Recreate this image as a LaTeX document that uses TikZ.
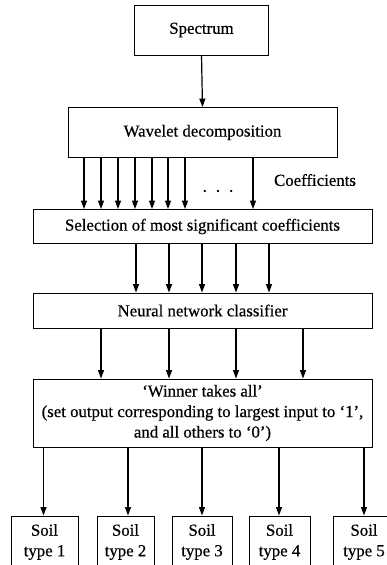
\documentclass[tikz,border=0pt]{standalone}
\usepackage{fontspec}
\setmainfont{Liberation Serif}[FakeBold=0.5]
\usetikzlibrary{arrows.meta}
\begin{document}
\begin{tikzpicture}[x=1pt,y=-1pt,
  every node/.style={font=\fontsize{16.8}{20.5}\selectfont},
  blk/.style={draw=black, line width=0.9pt, fill=white, inner sep=0pt, align=center},
  arr/.style={line width=1.2pt, -{Triangle[width=6pt,length=8.5pt]}},
  lbl/.style={inner sep=0pt}]
  % page area
  \fill[white] (0,0) rectangle (387,565);
  \clip (0,0) rectangle (387,565);

  % processing chain
  \node[blk, minimum width=134pt, minimum height=50pt] (spec) at (201.5,30) {Spectrum};
  \node[blk, minimum width=269pt, minimum height=50pt] (wav) at (202.5,132.5) {Wavelet decomposition};
  \node[blk, minimum width=339pt, minimum height=34pt] (sel) at (202.5,226.5) {Selection of most significant coefficients};
  \node[blk, minimum width=339pt, minimum height=35pt] (nn) at (202.5,310.5) {Neural network classifier};
  \node[blk, minimum width=339pt, minimum height=68pt] (wta) at (202.5,413)
    {`Winner takes all'\\(set output corresponding to largest input to `1',\\and all others to `0')};

  % output classes
  \node[blk, anchor=north, minimum width=67pt, minimum height=52pt] (s1) at (44.5,515.5) {Soil\\type 1};
  \node[blk, anchor=north, minimum width=57pt, minimum height=52pt] (s2) at (125.5,515.5) {Soil\\type 2};
  \node[blk, anchor=north, minimum width=60pt, minimum height=52pt] (s3) at (202,515.5) {Soil\\type 3};
  \node[blk, anchor=north, minimum width=61pt, minimum height=52pt] (s4) at (279.5,515.5) {Soil\\type 4};
  \node[blk, anchor=north, minimum width=62pt, minimum height=52pt] (s5) at (364,515.5) {Soil\\type 5};

  % spectrum into the decomposition
  \draw[arr] (spec.south) -- (wav.north);

  % wavelet coefficients
  \foreach \x [count=\i] in {84,101,118,135,152,168,185,253} {
    \coordinate (cf\i) at (\x,0);
    \draw[arr] (cf\i |- wav.south) -- (cf\i |- sel.north);
  }
  \node[lbl] (dots) at (218,191) {.\hskip 9pt.\hskip 9pt.};
  \node[lbl] (coef) at (315,180) {Coefficients};

  % selected coefficients
  \foreach \x [count=\i] in {136,169,202,236,269} {
    \coordinate (sc\i) at (\x,0);
    \draw[arr] (sc\i |- sel.south) -- (sc\i |- nn.north);
  }

  % classifier outputs
  \foreach \x [count=\i] in {101,169,236,303} {
    \coordinate (no\i) at (\x,0);
    \draw[arr] (no\i |- nn.south) -- (no\i |- wta.north);
  }

  % winner-takes-all outputs to soil classes
  \foreach \x [count=\i] in {43.5,128,202,279,364} {
    \coordinate (wo\i) at (\x,0);
    \draw[arr] (wo\i |- wta.south) -- (wo\i |- s\i.north);
  }
\end{tikzpicture}
\end{document}
